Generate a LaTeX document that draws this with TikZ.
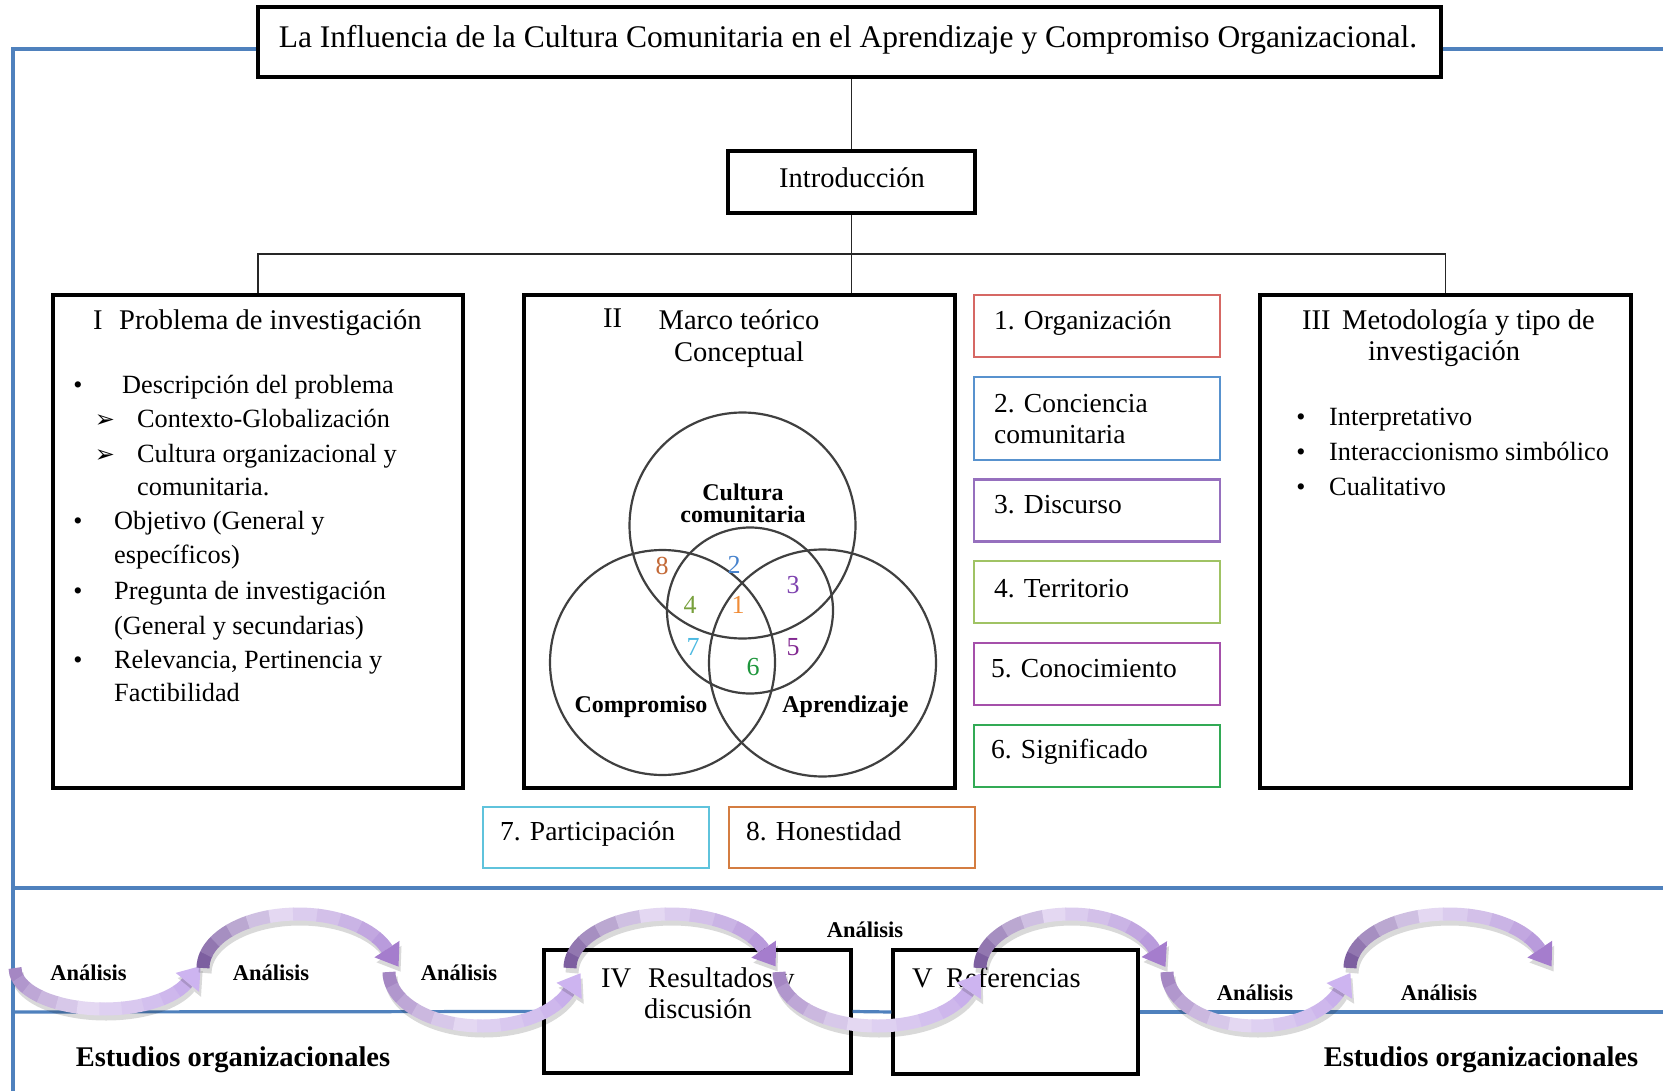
\documentclass[tikz,border=0pt]{standalone}
\usepackage{fontspec}
\setmainfont{Liberation Serif}
\newfontfamily\symfont{DejaVu Sans}
\usetikzlibrary{calc}

\definecolor{frameblue}{RGB}{79,129,189}
\definecolor{c1}{RGB}{214,104,100}
\definecolor{c2}{RGB}{88,146,206}
\definecolor{c3}{RGB}{150,112,190}
\definecolor{c4}{RGB}{160,195,100}
\definecolor{c5}{RGB}{165,80,170}
\definecolor{c6}{RGB}{50,170,85}
\definecolor{c7}{RGB}{95,195,220}
\definecolor{c8}{RGB}{212,125,65}
\definecolor{n1}{RGB}{240,140,55}
\definecolor{n2}{RGB}{70,130,205}
\definecolor{n3}{RGB}{125,65,175}
\definecolor{n4}{RGB}{120,160,60}
\definecolor{n5}{RGB}{130,40,145}
\definecolor{n6}{RGB}{30,150,60}
\definecolor{n7}{RGB}{75,185,225}
\definecolor{n8}{RGB}{195,105,55}
\definecolor{uA}{RGB}{125,95,160}
\definecolor{uB}{RGB}{228,216,242}
\definecolor{uC}{RGB}{185,155,220}
\definecolor{uAr}{RGB}{165,125,205}
\definecolor{lA}{RGB}{165,135,195}
\definecolor{lB}{RGB}{228,216,242}
\definecolor{lC}{RGB}{200,175,235}
\definecolor{lAr}{RGB}{205,180,240}

\newcommand{\ArrowTip}[7]{%
  \pgfmathsetmacro{\atpx}{#1+#3*cos(#5)}%
  \pgfmathsetmacro{\atpy}{#2+#4*sin(#5)}%
  \pgfmathsetmacro{\atdx}{0-(#6)*#3*sin(#5)}%
  \pgfmathsetmacro{\atdy}{(#6)*#4*cos(#5)}%
  \pgfmathsetmacro{\atdl}{sqrt(\atdx*\atdx+\atdy*\atdy)}%
  \pgfmathsetmacro{\atux}{\atdx/\atdl}%
  \pgfmathsetmacro{\atuy}{\atdy/\atdl}%
  \fill[black, opacity=0.15] ({\atpx-15*\atuy+2},{\atpy+15*\atux+5}) -- ({\atpx+15*\atuy+2},{\atpy-15*\atux+5}) -- ({\atpx+21*\atux+2},{\atpy+21*\atuy+5}) -- cycle;
  \fill[#7] ({\atpx-15*\atuy},{\atpy+15*\atux}) -- ({\atpx+15*\atuy},{\atpy-15*\atux}) -- ({\atpx+21*\atux},{\atpy+21*\atuy}) -- cycle;
}
\newcommand{\UpArc}[4]{%
  \draw[black, opacity=0.15, line width=13pt] ({#1-#3+2},{#2+5}) arc[start angle=180, end angle=339.5, x radius=#3, y radius=#4];
  \foreach \k in {0,...,10}{%
    \pgfmathsetmacro{\aS}{180+\k*14.5}%
    \pgfmathsetmacro{\aE}{min(\aS+15.2,339.5)}%
    \pgfmathtruncatemacro{\pp}{\k<6 ? \k*20 : (\k-5)*20}%
    \ifnum\k<6 \colorlet{segc}{uB!\pp!uA}\else\colorlet{segc}{uC!\pp!uB}\fi
    \draw[segc, line width=13pt] ({#1+#3*cos(\aS)},{#2+#4*sin(\aS)}) arc[start angle=\aS, end angle=\aE, x radius=#3, y radius=#4];
  }%
  \ArrowTip{#1}{#2}{#3}{#4}{339.5}{1}{uAr}%
}
\newcommand{\LowArc}[4]{%
  \draw[black, opacity=0.15, line width=13pt] ({#1-#3+2},{#2+5}) arc[start angle=180, end angle=20.5, x radius=#3, y radius=#4];
  \foreach \k in {0,...,10}{%
    \pgfmathsetmacro{\aS}{180-\k*14.5}%
    \pgfmathsetmacro{\aE}{max(\aS-15.2,20.5)}%
    \pgfmathtruncatemacro{\pp}{\k<6 ? \k*20 : (\k-5)*20}%
    \ifnum\k<6 \colorlet{segc}{lB!\pp!lA}\else\colorlet{segc}{lC!\pp!lB}\fi
    \draw[segc, line width=13pt] ({#1+#3*cos(\aS)},{#2+#4*sin(\aS)}) arc[start angle=\aS, end angle=\aE, x radius=#3, y radius=#4];
  }%
  \ArrowTip{#1}{#2}{#3}{#4}{20.5}{-1}{lAr}%
}

\tikzset{
  bbox/.style={draw=black, line width=3.2pt, fill=white, inner sep=0pt},
  cbox/.style={draw=#1, line width=2.6pt, fill=white, inner sep=0pt, minimum width=246pt, minimum height=62pt},
  tx/.style={inner sep=0pt, anchor=base west, font=\fontsize{26.3}{30}\selectfont},
  hd/.style={inner sep=0pt, font=\fontsize{28.5}{32}\selectfont},
  ctx/.style={inner sep=0pt, anchor=base west, font=\fontsize{27.5}{30}\selectfont},
  bul/.style={inner sep=0pt, anchor=base, font=\fontsize{26}{30}\selectfont},
  arb/.style={inner sep=0pt, anchor=base, font=\symfont\fontsize{24}{26}\selectfont},
  link/.style={draw=black!85, line width=1.6pt},
  frameline/.style={draw=frameblue, line width=3.2pt},
  vc/.style={circle, draw=black!75, line width=2.2pt, inner sep=0pt},
  vt/.style={inner sep=0pt, anchor=base, font=\bfseries\fontsize{24}{26}\selectfont},
  num/.style={inner sep=0pt, font=\fontsize{26}{28}\selectfont},
  an/.style={inner sep=0pt, anchor=base, font=\bfseries\fontsize{22.5}{24}\selectfont},
  eo/.style={inner sep=0pt, anchor=base, font=\bfseries\fontsize{28.5}{30}\selectfont},
}

\begin{document}
\begin{tikzpicture}[x=1pt,y=-1pt]
\useasboundingbox (0,0) rectangle (1663,1091);
\fill[white] (0,0) rectangle (1663,1091);

% boxes
\node[bbox, minimum width=1183pt, minimum height=70pt] (title) at (849.5,42) {};
\node[bbox, minimum width=247pt, minimum height=62pt] (intro) at (851.5,182) {};
\node[bbox, minimum width=410pt, minimum height=493pt] (boxI) at (258,541.5) {};
\node[bbox, minimum width=431pt, minimum height=493pt] (boxII) at (739.5,541.5) {};
\node[bbox, minimum width=371pt, minimum height=493pt] (boxIII) at (1445.5,541.5) {};
\node[cbox=c1] (k1) at (1097,326) {};
\node[cbox=c2, minimum height=83pt] (k2) at (1097,418.5) {};
\node[cbox=c3] (k3) at (1097,510.5) {};
\node[cbox=c4] (k4) at (1097,592) {};
\node[cbox=c5] (k5) at (1097,674) {};
\node[cbox=c6] (k6) at (1097,756) {};
\node[cbox=c7, minimum width=226pt, minimum height=61pt] (k7) at (596,837.5) {};
\node[cbox=c8, minimum height=61pt] (k8) at (852,837.5) {};
\node[bbox, minimum width=307pt, minimum height=123pt] (boxIV) at (697.5,1011.5) {};
\node[bbox, minimum width=245pt, minimum height=124pt] (boxV) at (1015.5,1012) {};

% connectors
\coordinate (bus) at (851.5,254);
\draw[link] (intro.north) -- (intro.north |- title.south);
\draw[link] (intro.south) -- (intro.south |- boxII.north);
\draw[link] (boxI.north) |- (bus) -| (boxIII.north);

% blue frame lines
\draw[frameline] ($(title.west)+(0,7)$) -- (13,49) -- (13,1091);
\draw[frameline] ($(title.east)+(0,7)$) -- (1663,49);
\draw[frameline] (13,888) -- (1663,888);
\draw[frameline] (13,1012) -- (boxIV.west);
\draw[frameline] (boxIV.east) -- (boxV.west);
\draw[frameline] (boxV.east) -- (1663,1012);

% title texts
\node[inner sep=0pt, anchor=base, font=\fontsize{31.5}{34}\selectfont] (ttl) at (848,48) {La Influencia de la Cultura Comunitaria en el Aprendizaje y Compromiso Organizacional.};
\node[hd, anchor=base] (introt) at (852,188) {Introducción};

% Box I
\node[hd, anchor=base west] (iI) at (93,330) {I};
\node[hd, anchor=base west] (iIh) at (119,330) {Problema de investigación};
\node[bul] (b1) at (78,393) {•};
\node[tx] (t1) at (122,393) {Descripción del problema};
\node[arb] (a1) at (105,427) {➢};
\node[tx] (t2) at (137,427) {Contexto-Globalización};
\node[arb] (a2) at (105,462) {➢};
\node[tx] (t3) at (137,462) {Cultura organizacional y};
\node[tx] (t4) at (137,495) {comunitaria.};
\node[bul] (b2) at (78,529) {•};
\node[tx] (t5) at (114,529) {Objetivo (General y};
\node[tx] (t6) at (114,563) {específicos)};
\node[bul] (b3) at (78,599) {•};
\node[tx] (t7) at (114,599) {Pregunta de investigación};
\node[tx] (t8) at (114,634) {(General y secundarias)};
\node[bul] (b4) at (78,668) {•};
\node[tx] (t9) at (114,668) {Relevancia, Pertinencia y};
\node[tx] (t10) at (114,701) {Factibilidad};

% Box II
\node[hd, anchor=base west] (iII) at (603,328) {II};
\node[hd, anchor=base] (iIIh) at (739,330) {Marco teórico};
\node[hd, anchor=base] (iIIh2) at (739,361) {Conceptual};
\node[vc, minimum size=226pt] (vtop) at (742.5,525.5) {};
\node[vc, minimum size=166pt] (vmid) at (750,610.5) {};
\node[vc, minimum size=225pt] (vleft) at (662.5,662.5) {};
\node[vc, minimum size=227pt] (vright) at (822.5,663) {};
\node[vt] (vt1) at (743,500) {Cultura};
\node[vt] (vt2) at (743,522) {comunitaria};
\node[vt] (vt3) at (641,712) {Compromiso};
\node[vt] (vt4) at (845.5,712) {Aprendizaje};
\node[num, text=n8] (m8) at (662,566) {8};
\node[num, text=n2] (m2) at (734,565) {2};
\node[num, text=n3] (m3) at (793,585) {3};
\node[num, text=n4] (m4) at (690,605) {4};
\node[num, text=n1] (m1) at (738,605) {1};
\node[num, text=n7] (m7) at (693,647) {7};
\node[num, text=n5] (m5) at (793,647) {5};
\node[num, text=n6] (m6) at (753,667) {6};

% coloured boxes text
\node[ctx] (k1t) at (994,330) {1. Organización};
\node[ctx] (k2t) at (994,412) {2. Conciencia};
\node[ctx] (k2u) at (994,443) {comunitaria};
\node[ctx] (k3t) at (994,513) {3. Discurso};
\node[ctx] (k4t) at (994,597) {4. Territorio};
\node[ctx] (k5t) at (991,677) {5. Conocimiento};
\node[ctx] (k6t) at (991,758) {6. Significado};
\node[ctx] (k7t) at (500,840) {7. Participación};
\node[ctx] (k8t) at (746,840) {8. Honestidad};

% Box III
\node[hd, anchor=base west] (iIII) at (1302,330) {III};
\node[hd, anchor=base west] (iIIIh) at (1342,330) {Metodología y tipo de};
\node[hd, anchor=base] (iIIIh2) at (1444,360) {investigación};
\node[bul] (b5) at (1301,425) {•};
\node[tx] (s1) at (1329,425) {Interpretativo};
\node[bul] (b6) at (1301,460) {•};
\node[tx] (s2) at (1329,460) {Interaccionismo simbólico};
\node[bul] (b7) at (1301,495) {•};
\node[tx] (s3) at (1329,495) {Cualitativo};

% Box IV, V
\node[hd, anchor=base west] (iIV) at (601,987) {IV};
\node[hd, anchor=base west] (iIVh) at (648,987) {Resultados y};
\node[hd, anchor=base] (iIVh2) at (698,1018) {discusión};
\node[hd, anchor=base west] (iV) at (912,987) {V};
\node[hd, anchor=base west] (iVh) at (946,987) {Referencias};

% wave of curved arrows
\LowArc{104}{968}{89}{41}
\UpArc{298}{968}{95}{54}
\LowArc{482}{972}{93}{54}
\UpArc{670}{968}{100}{54}
\LowArc{877}{972}{98}{54}
\UpArc{1070}{968}{90}{54}
\LowArc{1256}{972}{89}{54}
\UpArc{1448}{968}{98}{54}

\node[an] (an1) at (88.5,980) {Análisis};
\node[an] (an2) at (271,980) {Análisis};
\node[an] (an3) at (459,980) {Análisis};
\node[an] (an4) at (865,937) {Análisis};
\node[an] (an5) at (1255,1000) {Análisis};
\node[an] (an6) at (1439,1000) {Análisis};
\node[eo] (eo1) at (233,1066) {Estudios organizacionales};
\node[eo] (eo2) at (1481,1066) {Estudios organizacionales};
\end{tikzpicture}
\end{document}
